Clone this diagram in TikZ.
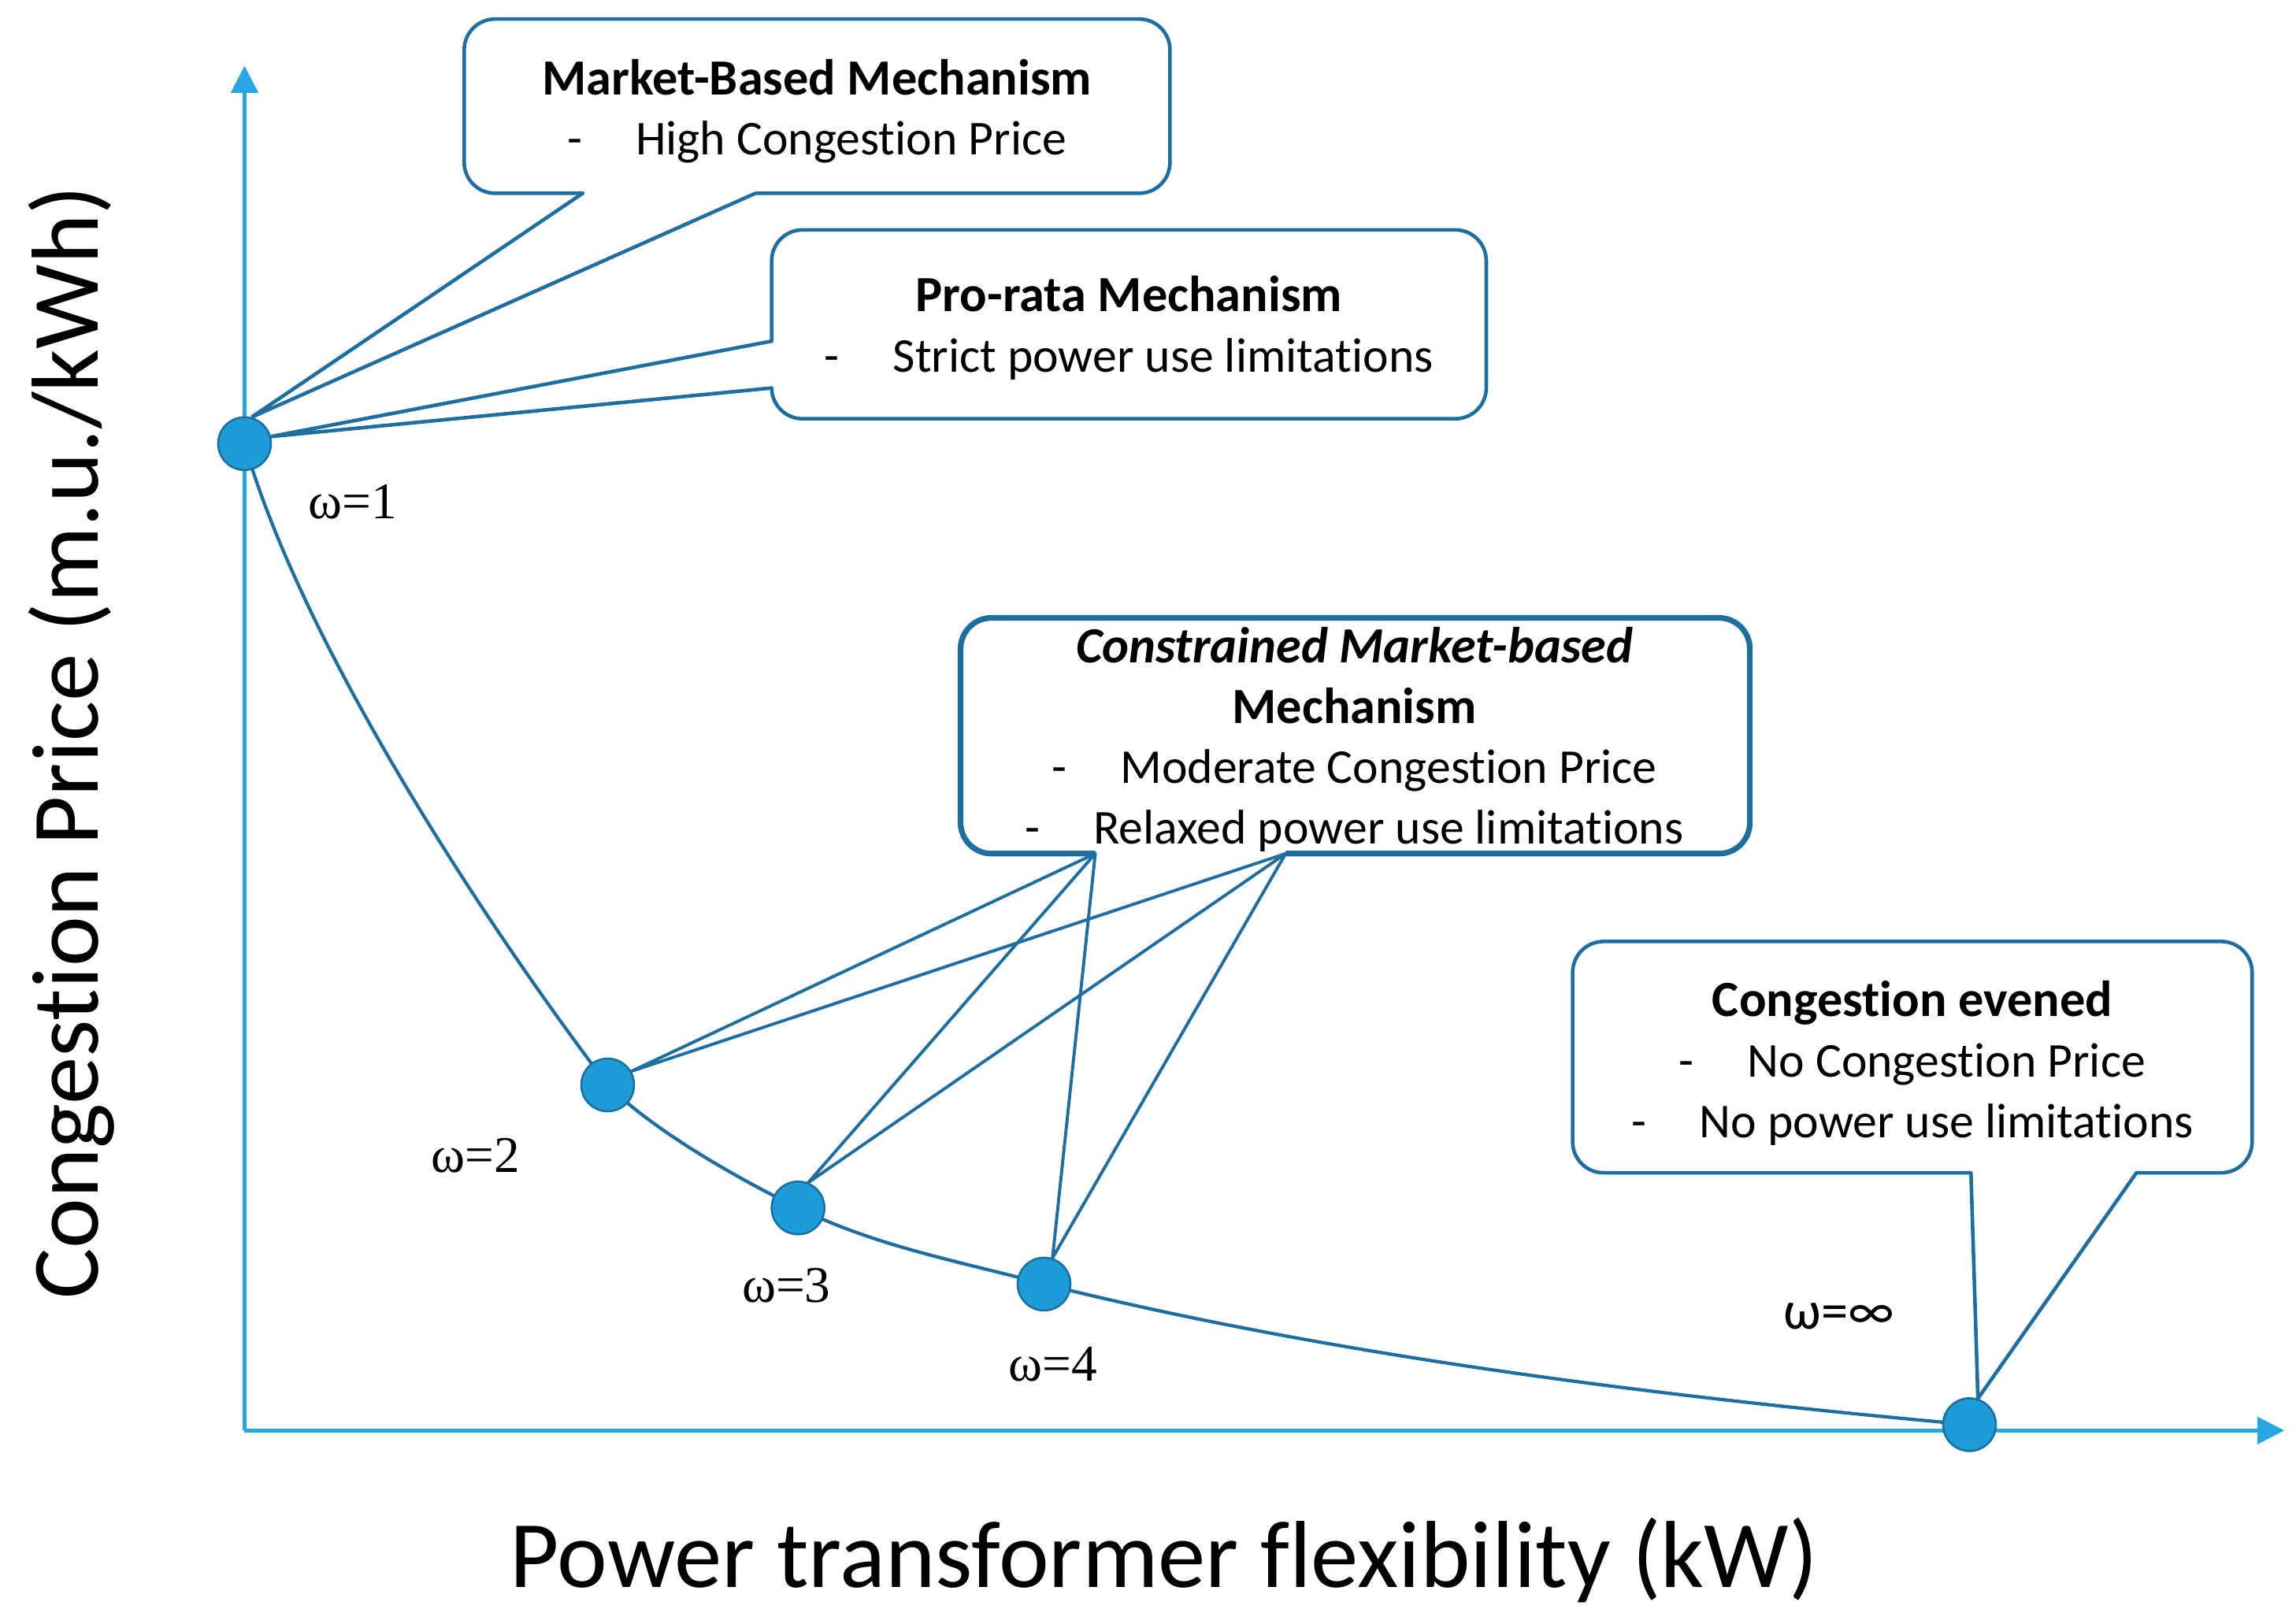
\documentclass[tikz,border=0pt]{standalone}
\usepackage{fontspec}
\setmainfont{Carlito}[Ligatures=NoCommon]
\newfontfamily\omegafont{Liberation Serif}
\usetikzlibrary{arrows.meta}
\usetikzlibrary{backgrounds}

\definecolor{axisblue}{RGB}{41,165,225}
\definecolor{lineblue}{RGB}{31,110,160}
\definecolor{dotblue}{RGB}{30,156,215}
\definecolor{dotedge}{RGB}{24,112,165}

\newcommand{\itm}{-\hspace{1.1em}}
\newcommand{\ttl}[1]{{\fontsize{19.7}{23.5}\selectfont\bfseries #1}}

\begin{document}
\begin{tikzpicture}[x=0.2mm, y=-0.2mm,
    axis/.style={draw=axisblue, line width=1.4pt, -{Triangle[length=10.5pt, width=10.5pt]}},
    wdot/.style={circle, fill=dotblue, draw=dotedge, line width=0.8pt, minimum size=20.5pt, inner sep=0pt},
    wlabel/.style={font=\omegafont\fontsize{20}{24}\selectfont},
    boxtext/.style={align=center, inner sep=0pt, font=\fontsize{18.9}{23.5}\selectfont},
    boxline/.style={draw=lineblue, line width=1.4pt, rounded corners=12pt},
    pointer/.style={draw=lineblue, line width=1.4pt, line cap=round},
  ]
  \useasboundingbox (0,0) rectangle (1568,1109);

  % axes
  \coordinate (o) at (167,977);
  \coordinate (ytip) at (167,45);
  \coordinate (xtip) at (1560,977);
  \draw[axis] (o) -- (ytip);
  \draw[axis] (o) -- (xtip);
  \node[rotate=90, anchor=base, font=\fontsize{37}{44}\selectfont] (ylab) at (67,507) {Congestion Price (m.u./kWh)};
  \node[anchor=base, font=\fontsize{37}{44}\selectfont] (xlab) at (795,1084) {Power transformer flexibility (kW)};

  % operating points
  \node[wdot] (w1) at (167,303) {};
  \node[wdot] (w2) at (415,741) {};
  \node[wdot] (w3) at (545,825) {};
  \node[wdot] (w4) at (713,877) {};
  \node[wdot] (winf) at (1345,973) {};
  \node[wlabel] (l1) at (241,343) {ω=1};
  \node[wlabel] (l2) at (325,789) {ω=2};
  \node[wlabel] (l3) at (537,878) {ω=3};
  \node[wlabel] (l4) at (719,932) {ω=4};
  \node[font=\fontsize{21}{24}\selectfont] (linf) at (1256,899) {ω=∞};

  % callout boxes
  \coordinate (mbmA) at (398,132);
  \coordinate (mbmB) at (516,132);
  \draw[boxline] (mbmB) -- (799,132) -- (799,13) -- (317,13) -- (317,132) -- (mbmA);
  \node[boxtext] (mbm) at (558,76) {\ttl{Market-Based Mechanism}\\\itm High Congestion Price};

  \coordinate (prA) at (527,233);
  \coordinate (prB) at (527,265);
  \draw[boxline] (prA) -- (527,157) -- (1015,157) -- (1015,286) -- (527,286) -- (prB);
  \node[boxtext] (pr) at (771,224) {\ttl{Pro-rata Mechanism}\\\itm Strict power use limitations};

  \coordinate (cmA) at (748,583);
  \coordinate (cmB) at (878,583);
  \draw[boxline, line width=2.2pt] (cmB) -- (1195,583) -- (1195,422) -- (656,422) -- (656,583) -- (cmA);
  \node[boxtext] (cm) at (925,505) {\ttl{\itshape Constrained Market-based}\\\ttl{Mechanism}\\\itm Moderate Congestion Price\\\itm Relaxed power use limitations};

  \coordinate (ceA) at (1346,801);
  \coordinate (ceB) at (1459,801);
  \draw[boxline] (ceB) -- (1538,801) -- (1538,643) -- (1074,643) -- (1074,801) -- (ceA);
  \node[boxtext] (ce) at (1306,726) {\ttl{Congestion evened}\\\itm No Congestion Price\\\itm No power use limitations};

  % curve and pointers behind the dots
  \begin{scope}[on background layer]
    \draw[lineblue, line width=1.3pt] (w1.center) .. controls (207,443) and (335,636) .. (w2.center)
      .. controls (445,771) and (500,803) .. (w3.center)
      .. controls (600,852) and (658,862) .. (w4.center)
      .. controls (913,927) and (1145,955) .. (winf.center);
    \draw[pointer] (mbmA) -- (w1.75) -- (mbmB);
    \draw[pointer] (prA) -- (w1.15) -- (prB);
    \draw[pointer, line width=1.2pt] (cmA) -- (w2.30) -- (cmB);
    \draw[pointer, line width=1.2pt] (cmA) -- (w3.68) -- (cmB);
    \draw[pointer, line width=1.2pt] (cmA) -- (w4.72) -- (cmB);
    \draw[pointer] (ceA) -- (winf.72) -- (ceB);
  \end{scope}
\end{tikzpicture}
\end{document}
